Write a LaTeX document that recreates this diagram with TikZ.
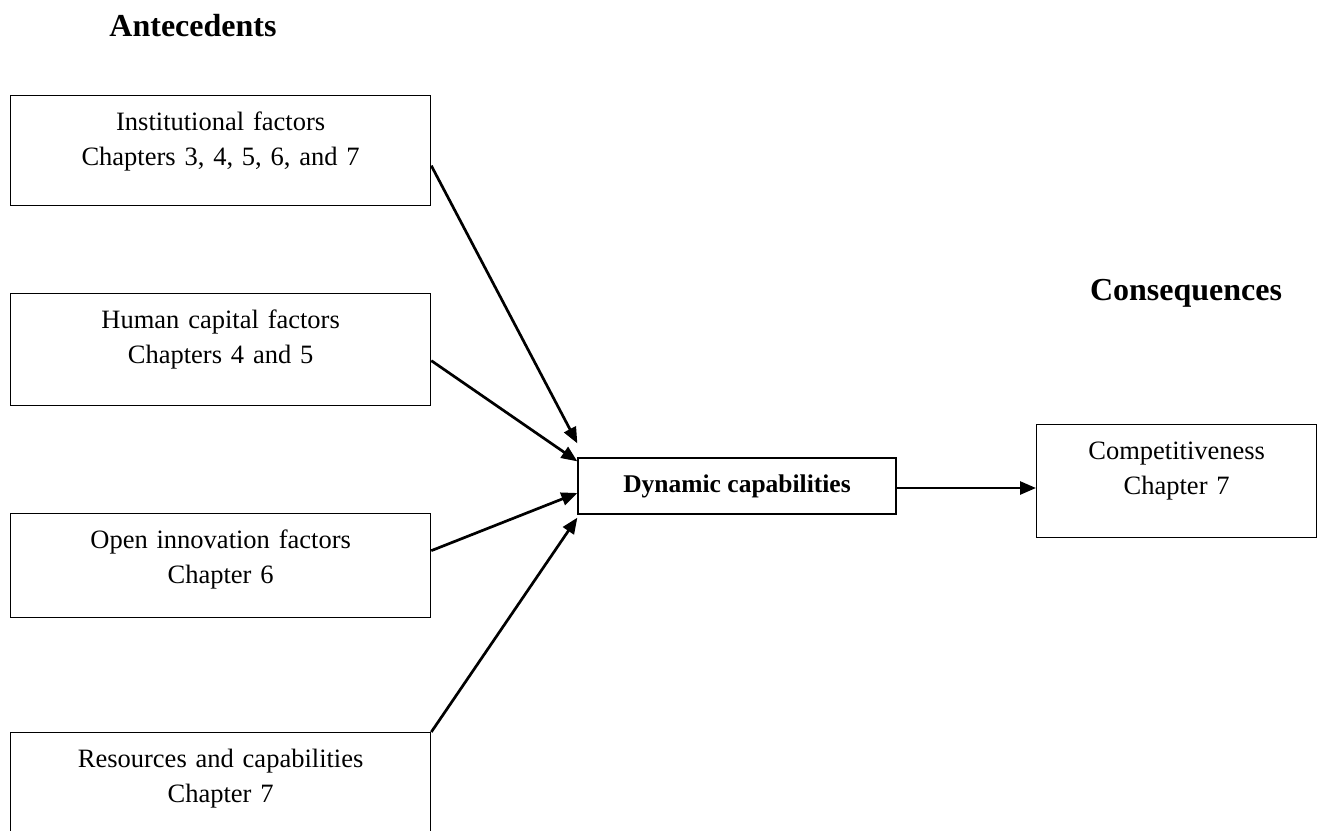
\documentclass[tikz,border=0pt]{standalone}
\usepackage{fontspec}
\setmainfont{Liberation Serif}
\usetikzlibrary{arrows.meta}

\tikzset{
  factor/.style={draw,line width=1.3pt,anchor=north west,text width=400pt,inner xsep=10pt,inner ysep=0pt,
    align=center,text height=35pt,font=\fontsize{26.5}{35}\selectfont},
  heading/.style={anchor=base,font=\fontsize{32}{38}\selectfont\bfseries},
  link/.style={line width=2.7pt,-{Triangle[length=16pt,width=13pt]}}
}

\begin{document}
\begin{tikzpicture}[x=1pt,y=1pt]
                \useasboundingbox (0,0) rectangle (1327,-830);
                \clip (0,0) rectangle (1327,-830);
                % headings
                \node[heading] (ante) at (193,-36) {Antecedents};
                \node[heading] (cons) at (1186,-300) {Consequences};
                % antecedent boxes
                \node[factor,text depth=75pt] (inst) at (10,-95) {Institutional factors\\Chapters 3, 4, 5, 6, and 7};
                \node[factor,text depth=77pt] (human) at (10,-293) {Human capital factors\\Chapters 4 and 5};
                \node[factor,text depth=69pt] (open) at (10,-513) {Open innovation factors\\Chapter 6};
                \node[factor,text depth=120pt] (res) at (10,-732) {Resources and capabilities\\Chapter 7};
                % centre and consequence
                \node[draw,line width=1.3pt,minimum width=318pt,minimum height=56pt,font=\fontsize{25.5}{30}\selectfont\bfseries] (dyn) at (737,-486) {Dynamic capabilities};
                \node[factor,text width=260pt,text depth=78pt] (comp) at (1036,-424) {Competitiveness\\Chapter 7};
                % arrows
                \draw[link] ([yshift=-15pt]inst.east) -- ([yshift=14pt]dyn.north west);
                \draw[link] ([yshift=-11pt]human.east) -- ([yshift=-4pt]dyn.north west);
                \draw[link] ([yshift=15pt]open.east) -- ([yshift=-7pt]dyn.west);
                \draw[link] (res.north east) -- ([yshift=-3pt]dyn.south west);
                \draw[link] ([yshift=-2pt]dyn.east) -- ([yshift=-2pt]dyn.east -| comp.west);
\end{tikzpicture}
\end{document}
